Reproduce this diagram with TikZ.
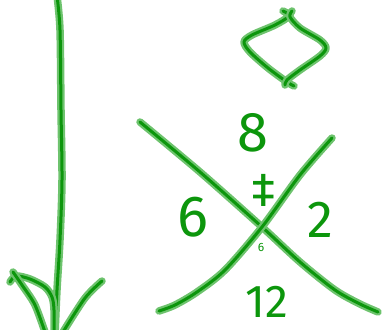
\documentclass[tikz,border=0pt]{standalone}
\usepackage{fontspec}
\setmainfont{Fira Sans}
\definecolor{core}{RGB}{12,150,12}
\definecolor{halo}{RGB}{110,195,110}
\tikzset{
  ink/.style={draw=core, line width=3pt, line cap=round, line join=round,
    preaction={draw=halo, line width=7.5pt, line cap=round, line join=round}},
  lbl/.style={text=core, inner sep=0pt},
}
\begin{document}
\begin{tikzpicture}[x=1pt,y=-1pt]
\useasboundingbox (0,0) rectangle (382,329);
% long arrow shaft
\draw[ink] plot[smooth] coordinates {(57,-4) (60,30) (61,110) (62,180) (60,240) (57,290) (55,335)};
% arrow head strokes
\draw[ink] plot[smooth] coordinates {(10,282) (16,276) (30,279) (45,287) (52,297) (54,310) (54,335)};
\draw[ink] plot[smooth] coordinates {(13,272) (22,285) (35,305) (46,335)};
\draw[ink] plot[smooth] coordinates {(102,281) (85,298) (63,332)};
% diamond
\draw[ink] plot[smooth] coordinates {(283,11) (289,16) (275,25) (252,35) (244,42) (250,52) (268,68) (287,82) (294,86)};
\draw[ink] plot[smooth] coordinates {(292,11) (290,17) (300,28) (320,40) (326,48) (320,56) (300,70) (287,80) (285,85)};
% crossing lines
\draw[ink] plot[smooth] coordinates {(140,122) (200,172) (262,227) (300,262) (335,290) (360,304) (378,312)};
\draw[ink] plot[smooth] coordinates {(332,138) (300,175) (262,227) (225,270) (197,292) (175,305) (159,311)};
% labels
\node[lbl, font=\fontsize{56}{56}\selectfont] (n8) at (253,133) {8};
\node[lbl, font=\fontsize{48}{48}\selectfont] (dd) at (264,190) {‡};
\node[lbl, font=\fontsize{58}{58}\selectfont] (n6) at (193,217) {6};
\node[lbl, font=\fontsize{52}{52}\selectfont] (n2) at (320,220) {2};
\node[lbl, font=\fontsize{46}{46}\selectfont] (n12) at (267,302) {12};
\node[lbl, font=\fontsize{12}{12}\selectfont] (s6) at (261,247) {6};
\end{tikzpicture}
\end{document}
